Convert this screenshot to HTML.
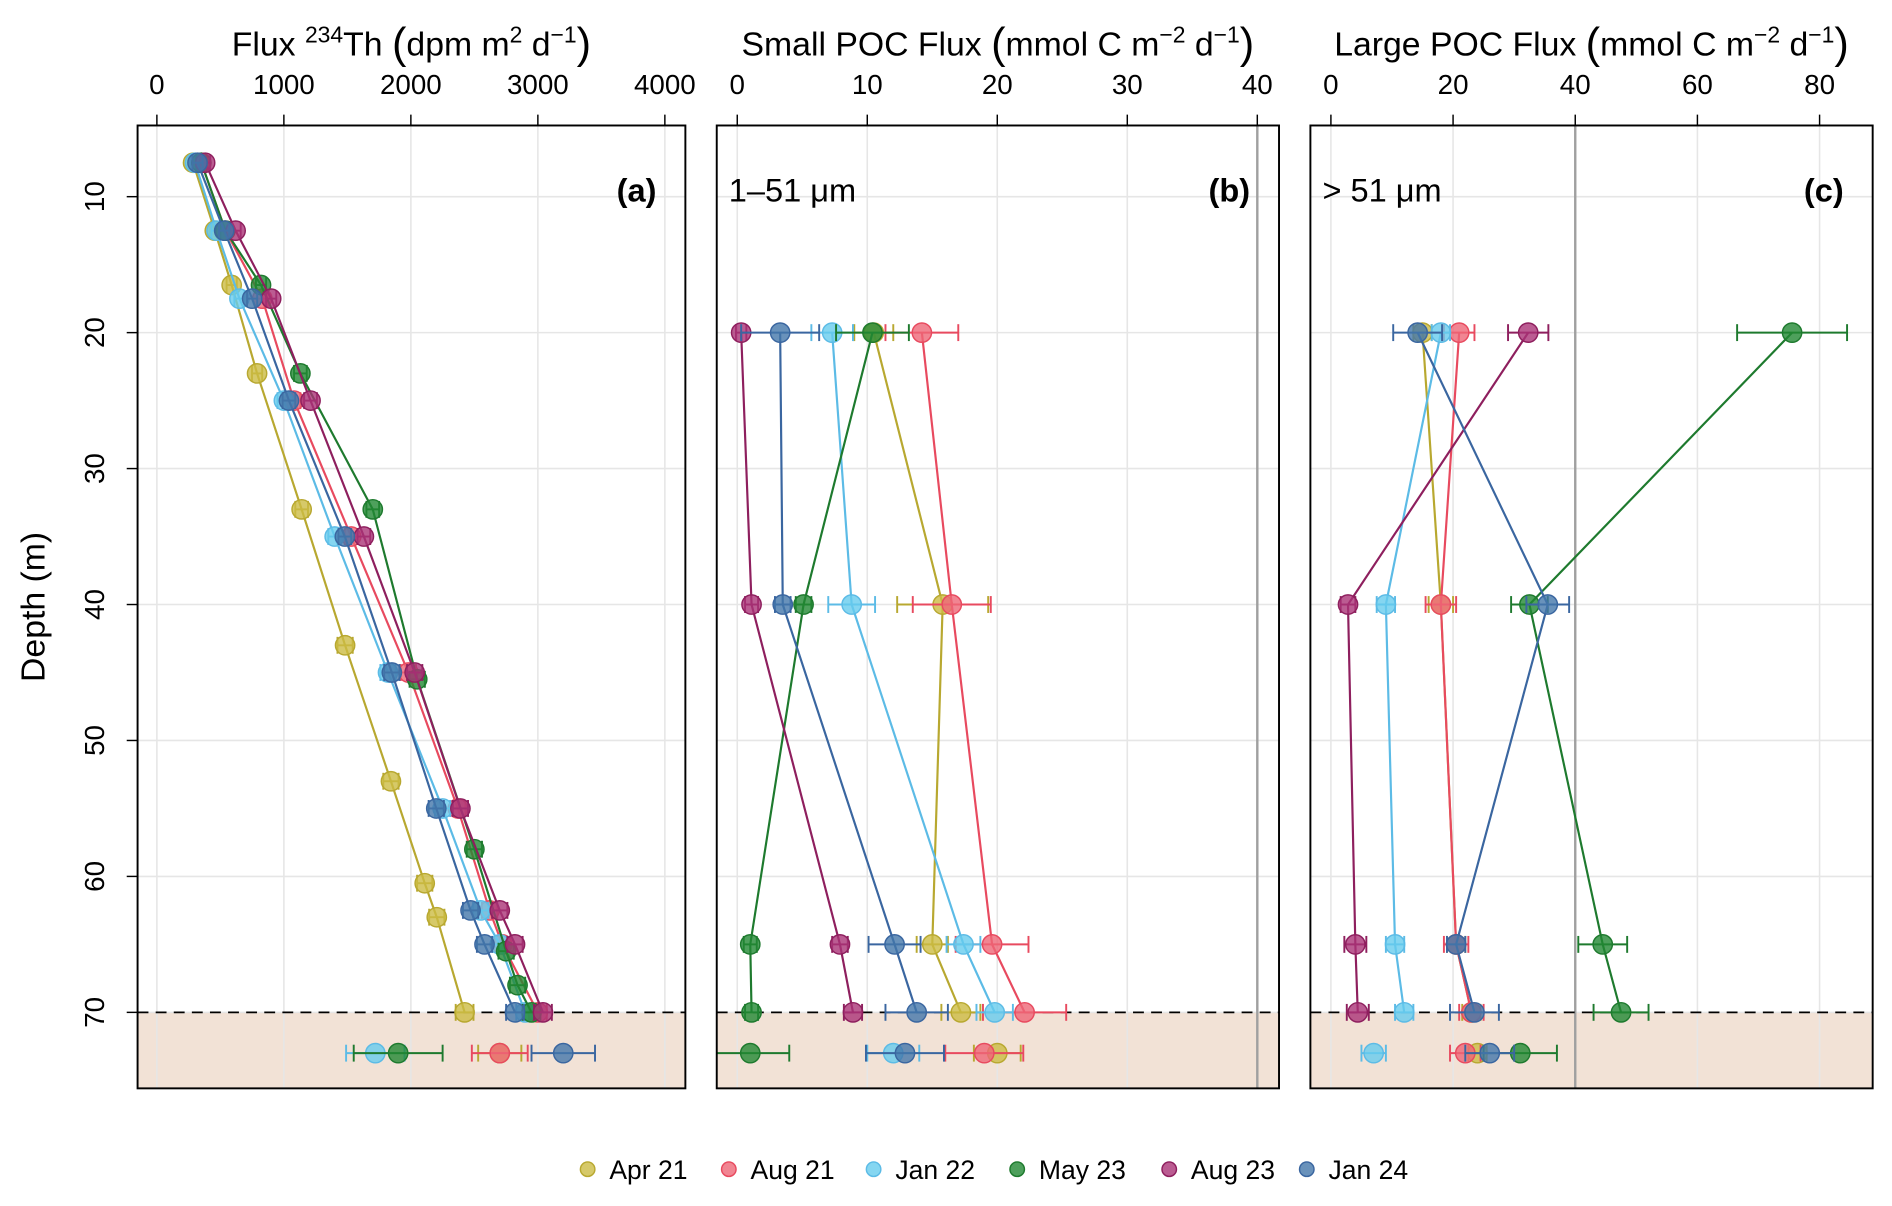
<!DOCTYPE html>
<html><head><meta charset="utf-8"><style>
html,body{margin:0;padding:0;background:#fff;}
svg{display:block;font-family:"Liberation Sans",Arial,sans-serif;}
</style></head><body>
<svg id="chart" width="1892" height="1206" viewBox="0 0 1568 999.5" xmlns="http://www.w3.org/2000/svg"></svg>
<script>
// ---- data ----
const seriesNames = ["Apr 21","Aug 21","Jan 22","May 23","Aug 23","Jan 24"];
const seriesColors = ["#CCBB44","#EE6677","#66CCEE","#228833","#AA3377","#4477AA"];
const lineColors = ["#B8A830","#E84A5F","#5CBBE6","#1E7A2E","#8E1F5E","#3A66A0"];

// Panel a: Th-234 flux
const thDepthApr21 = [7.5,12.5,16.5,23,33,43,53,60.5,63,70,73];
const thFluxApr21 = [285,456,589,789,1140,1482,1843,2109,2204,2423,2700];
const thErrApr21 = [40,40,40,40,50,60,60,60,60,70,170];
const thDepthAug21 = [7.5,12.5,17.5,25,35,45,55,62.5,65,70,73];
const thFluxAug21 = [350,540,830,1080,1530,1980,2370,2620,2720,3000,2700];
const thErrAug21 = [40,40,40,50,50,60,60,60,60,70,220];
const thDepthJan22 = [7.5,12.5,17.5,25,35,45,55,62.5,65,70,73];
const thFluxJan22 = [300,470,650,1000,1400,1820,2250,2550,2700,2900,1720];
const thErrJan22 = [40,40,40,50,50,60,60,60,60,70,230];
const thDepthMay23 = [7.5,12.5,16.5,23,33,45.5,58,65.5,68,70,73];
const thFluxMay23 = [350,540,820,1130,1700,2050,2500,2750,2840,2950,1900];
const thErrMay23 = [40,40,40,50,50,60,60,60,60,70,350];
const thDepthAug23 = [7.5,12.5,17.5,25,35,45,55,62.5,65,70];
const thFluxAug23 = [380,620,900,1210,1630,2030,2390,2700,2820,3040];
const thErrAug23 = [40,40,40,50,50,60,60,60,60,70];
const thDepthJan24 = [7.5,12.5,17.5,25,35,45,55,62.5,65,70,73];
const thFluxJan24 = [320,530,750,1040,1480,1850,2200,2470,2580,2820,3200];
const thErrJan24 = [40,40,40,50,50,60,60,60,60,70,250];

// Panel b: small POC flux
const pocDepths = [20,40,65,70,73];
const smallApr21 = [10.5,15.8,15.0,17.2,20.0];
const smallApr21Err = [1.5,3.5,1.2,1.5,1.8];
const smallAug21 = [14.2,16.5,19.6,22.1,19.0];
const smallAug21Err = [2.8,3.0,2.8,3.2,3.0];
const smallJan22 = [7.3,8.8,17.4,19.8,12.0];
const smallJan22Err = [1.6,1.8,1.3,1.4,2.0];
const smallMay23 = [10.4,5.1,1.0,1.1,1.0];
const smallMay23Err = [2.8,0.6,0.5,0.5,3.0];
const smallAug23 = [0.3,1.1,7.9,8.9,null];
const smallAug23Err = [0.4,0.5,0.6,0.7,null];
const smallJan24 = [3.3,3.5,12.1,13.8,12.9];
const smallJan24Err = [3.0,0.6,2.0,2.4,3.0];

// Panel c: large POC flux
const largeApr21 = [15.0,18.0,20.5,23.0,24.0];
const largeApr21Err = [1.5,2.0,1.5,1.5,1.5];
const largeAug21 = [21.0,18.0,20.5,23.0,22.0];
const largeAug21Err = [2.5,2.5,2.0,2.0,2.5];
const largeJan22 = [18.0,9.0,10.5,12.0,7.0];
const largeJan22Err = [1.5,1.5,1.5,1.5,2.0];
const largeMay23 = [75.5,32.5,44.5,47.5,31.0];
const largeMay23Err = [9.0,3.0,4.0,4.5,6.0];
const largeAug23 = [32.3,2.8,4.0,4.4,null];
const largeAug23Err = [3.3,1.2,1.8,1.8,null];
const largeJan24 = [14.2,35.5,20.5,23.5,26.0];
const largeJan24Err = [4.0,3.5,1.5,4.0,4.0];

const thSeries = [[thDepthApr21,thFluxApr21,thErrApr21],[thDepthAug21,thFluxAug21,thErrAug21],[thDepthJan22,thFluxJan22,thErrJan22],[thDepthMay23,thFluxMay23,thErrMay23],[thDepthAug23,thFluxAug23,thErrAug23],[thDepthJan24,thFluxJan24,thErrJan24]];
const smallSeries = [[pocDepths,smallApr21,smallApr21Err],[pocDepths,smallAug21,smallAug21Err],[pocDepths,smallJan22,smallJan22Err],[pocDepths,smallMay23,smallMay23Err],[pocDepths,smallAug23,smallAug23Err],[pocDepths,smallJan24,smallJan24Err]];
const largeSeries = [[pocDepths,largeApr21,largeApr21Err],[pocDepths,largeAug21,largeAug21Err],[pocDepths,largeJan22,largeJan22Err],[pocDepths,largeMay23,largeMay23Err],[pocDepths,largeAug23,largeAug23Err],[pocDepths,largeJan24,largeJan24Err]];

const depthTicks = [10,20,30,40,50,60,70];
const thTicks = [0,1000,2000,3000,4000];
const smallTicks = [0,10,20,30,40];
const largeTicks = [0,20,40,60,80];

// ---- drawing ----
const NS = "http://www.w3.org/2000/svg";
const svg = document.getElementById("chart");
function mk(tag, attrs, parent){
  const e = document.createElementNS(NS, tag);
  for (const k in attrs) e.setAttribute(k, attrs[k]);
  (parent||svg).appendChild(e);
  return e;
}
const TOP=104, BOT=902;
function yScale(d){ return 163 + (d-10)*11.267; }

function drawPanel(cfg){
  const g = mk("g",{});
  
  
  const xs = v => cfg.x0 + v*cfg.k;
  const sh = mk("rect",{x:cfg.left,y:yScale(70),width:cfg.right-cfg.left,height:BOT-yScale(70),fill:"#F2E2D6"},g);
  
  
  depthTicks.forEach(d=>{ mk("line",{x1:cfg.left,x2:cfg.right,y1:yScale(d),y2:yScale(d),stroke:"#E6E6E6","stroke-width":1.3},g); });
  cfg.ticks.forEach(t=>{
    mk("line",{x1:xs(t),x2:xs(t),y1:TOP,y2:BOT,stroke:"#E6E6E6","stroke-width":1.3},g);
    mk("line",{x1:xs(t),x2:xs(t),y1:TOP,y2:TOP-9,stroke:"#000","stroke-width":1.2},g);
    const tl = mk("text",{x:xs(t),y:78,"font-size":23,"text-anchor":"middle",fill:"#000"},g);
    tl.textContent = t;
    
    
  });
  if (cfg.refLine!==undefined){
    mk("line",{x1:xs(cfg.refLine),x2:xs(cfg.refLine),y1:TOP,y2:BOT,stroke:"#A0A0A0","stroke-width":2},g);
  }
  mk("line",{x1:cfg.left,x2:cfg.right,y1:yScale(70),y2:yScale(70),stroke:"#000","stroke-width":1.5,"stroke-dasharray":"9,6"},g);
  cfg.series.forEach((s,si)=>{
    const [dep,val,err] = s;
    const sg = mk("g",{},g);
    
    
    const pts=[];
    for(let i=0;i<val.length;i++){ if(val[i]!==null && dep[i]<=70) pts.push(xs(val[i])+","+yScale(dep[i])); }
    mk("polyline",{points:pts.join(" "),fill:"none",stroke:lineColors[si],"stroke-width":1.8},sg);
    for(let i=0;i<val.length;i++){
      if(val[i]===null) continue;
      const cx=xs(val[i]), cy=yScale(dep[i]);
      const e=err[i]||0;
      const xa=Math.max(cfg.left,xs(val[i]-e)), xb=Math.min(cfg.right,xs(val[i]+e));
      mk("line",{x1:xa,x2:xb,y1:cy,y2:cy,stroke:lineColors[si],"stroke-width":1.6},sg);
      [[val[i]-e,xa],[val[i]+e,xb]].forEach(([v,px])=>{ if(xs(v)>=cfg.left&&xs(v)<=cfg.right) mk("line",{x1:px,x2:px,y1:cy-7,y2:cy+7,stroke:lineColors[si],"stroke-width":1.6},sg); });
      const c = mk("circle",{cx:cx,cy:cy,r:8,fill:seriesColors[si],"fill-opacity":0.8,stroke:lineColors[si],"stroke-width":1.2},sg);
      
      
    }
  });
  const fr = mk("rect",{x:cfg.left,y:TOP,width:cfg.right-cfg.left,height:BOT-TOP,fill:"none",stroke:"#000","stroke-width":1.6},g);
  
  
  const tt = mk("text",{x:(cfg.left+cfg.right)/2,y:46,"font-size":28,"text-anchor":"middle",fill:"#000"},g);
  tt.innerHTML = cfg.title;
  
  
  const pl = mk("text",{x:cfg.right-24,y:167,"font-size":27,"font-weight":"bold","text-anchor":"end",fill:"#000"},g);
  pl.textContent = cfg.label;
  
  
  if(cfg.size){
    const sz = mk("text",{x:cfg.left+10,y:167,"font-size":27,fill:"#000"},g);
    sz.textContent = cfg.size;
    
    
  }
}
const P = s => '<tspan font-size="36" dy="2">'+s+'</tspan>';
const S = s => '<tspan baseline-shift="super" font-size="19">'+s+'</tspan>';
drawPanel({name:"panel-a-thorium",left:114,right:568,x0:130,k:0.10525,ticks:thTicks,series:thSeries,label:"(a)",
  title:'Flux '+S('234')+'Th '+P('(')+'<tspan dy="-2">dpm m</tspan>'+S('2')+' d'+S('−1')+P(')')});
drawPanel({name:"panel-b-small-poc",left:594,right:1060,x0:611,k:10.775,ticks:smallTicks,series:smallSeries,label:"(b)",size:"1–51 μm",refLine:40,
  title:'Small POC Flux '+P('(')+'<tspan dy="-2">mmol C m</tspan>'+S('−2')+' d'+S('−1')+P(')')});
drawPanel({name:"panel-c-large-poc",left:1086,right:1552,x0:1103,k:5.0625,ticks:largeTicks,series:largeSeries,label:"(c)",size:"> 51 μm",refLine:40,
  title:'Large POC Flux '+P('(')+'<tspan dy="-2">mmol C m</tspan>'+S('−2')+' d'+S('−1')+P(')')});

depthTicks.forEach(d=>{
  mk("line",{x1:114,x2:105,y1:yScale(d),y2:yScale(d),stroke:"#000","stroke-width":1.2});
  const t = mk("text",{x:0,y:0,"font-size":23,"text-anchor":"middle",transform:`translate(86,${yScale(d)}) rotate(-90)`});
  t.textContent = d;
  
  
});
const yt = mk("text",{x:0,y:0,"font-size":28,"text-anchor":"middle",transform:"translate(37,503) rotate(-90)"});
yt.textContent = "Depth (m)";



const legendX = [487,604,724,843,969,1083];
seriesNames.forEach((n,i)=>{
  const lg = mk("g",{});
  
  
  mk("circle",{cx:legendX[i],cy:969,r:6,fill:seriesColors[i],"fill-opacity":0.8,stroke:lineColors[i],"stroke-width":1.2},lg);
  const t = mk("text",{x:legendX[i]+18,y:977,"font-size":22},lg);
  t.textContent = n;
});
</script>
</body></html>
